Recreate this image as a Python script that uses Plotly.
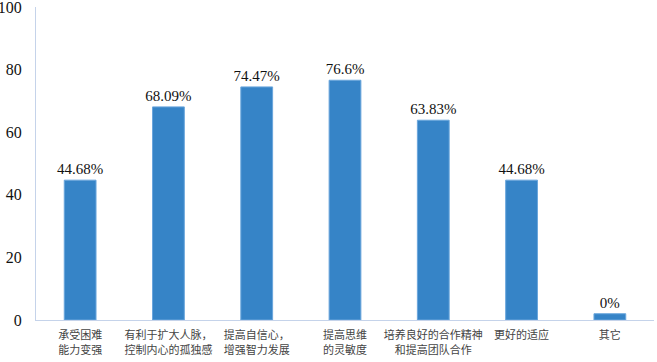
import plotly.graph_objects as go

categories = ["承受困难<br>能力变强", "有利于扩大人脉，<br>控制内心的孤独感", "提高自信心，<br>增强智力发展",
              "提高思维<br>的灵敏度", "培养良好的合作精神<br>和提高团队合作", "更好的适应", "其它"]
values = [44.68, 68.09, 74.47, 76.6, 63.83, 44.68, 2.0]
labels = ["44.68%", "68.09%", "74.47%", "76.6%", "63.83%", "44.68%", "0%"]
y_ticks = [0, 20, 40, 60, 80, 100]

fig = go.Figure(go.Bar(
    x=categories, y=values, text=labels, textposition="outside",
    constraintext="none",
    textfont=dict(family="Liberation Serif", size=15, color="#111111"),
    marker=dict(color="#3684c7", line=dict(color="#6aa6dc", width=1)),
    width=0.36, cliponaxis=False,
))
fig.update_layout(
    width=657, height=362, margin=dict(l=36, r=3, t=7, b=42, autoexpand=False),
    paper_bgcolor="white", plot_bgcolor="white", showlegend=False,
)
fig.update_xaxes(showline=True, linecolor="#c5d3ea", linewidth=1, showgrid=False,
                 ticks="outside", ticklen=5, tickcolor="rgba(0,0,0,0)", automargin=False,
                 tickfont=dict(family="Noto Sans CJK SC", size=11, color="#444444"))
fig.update_yaxes(range=[0, 100], tickvals=y_ticks, showline=True, linecolor="#c5d3ea",
                 linewidth=1, showgrid=False, zeroline=False, ticks="outside", ticklen=10,
                 tickcolor="rgba(0,0,0,0)", ticklabeloverflow="allow", automargin=False,
                 tickfont=dict(family="Liberation Serif", size=16, color="#111111"))
fig.write_html("out.html", config={"displayModeBar": False},
               post_script="document.body.style.margin='0';")
